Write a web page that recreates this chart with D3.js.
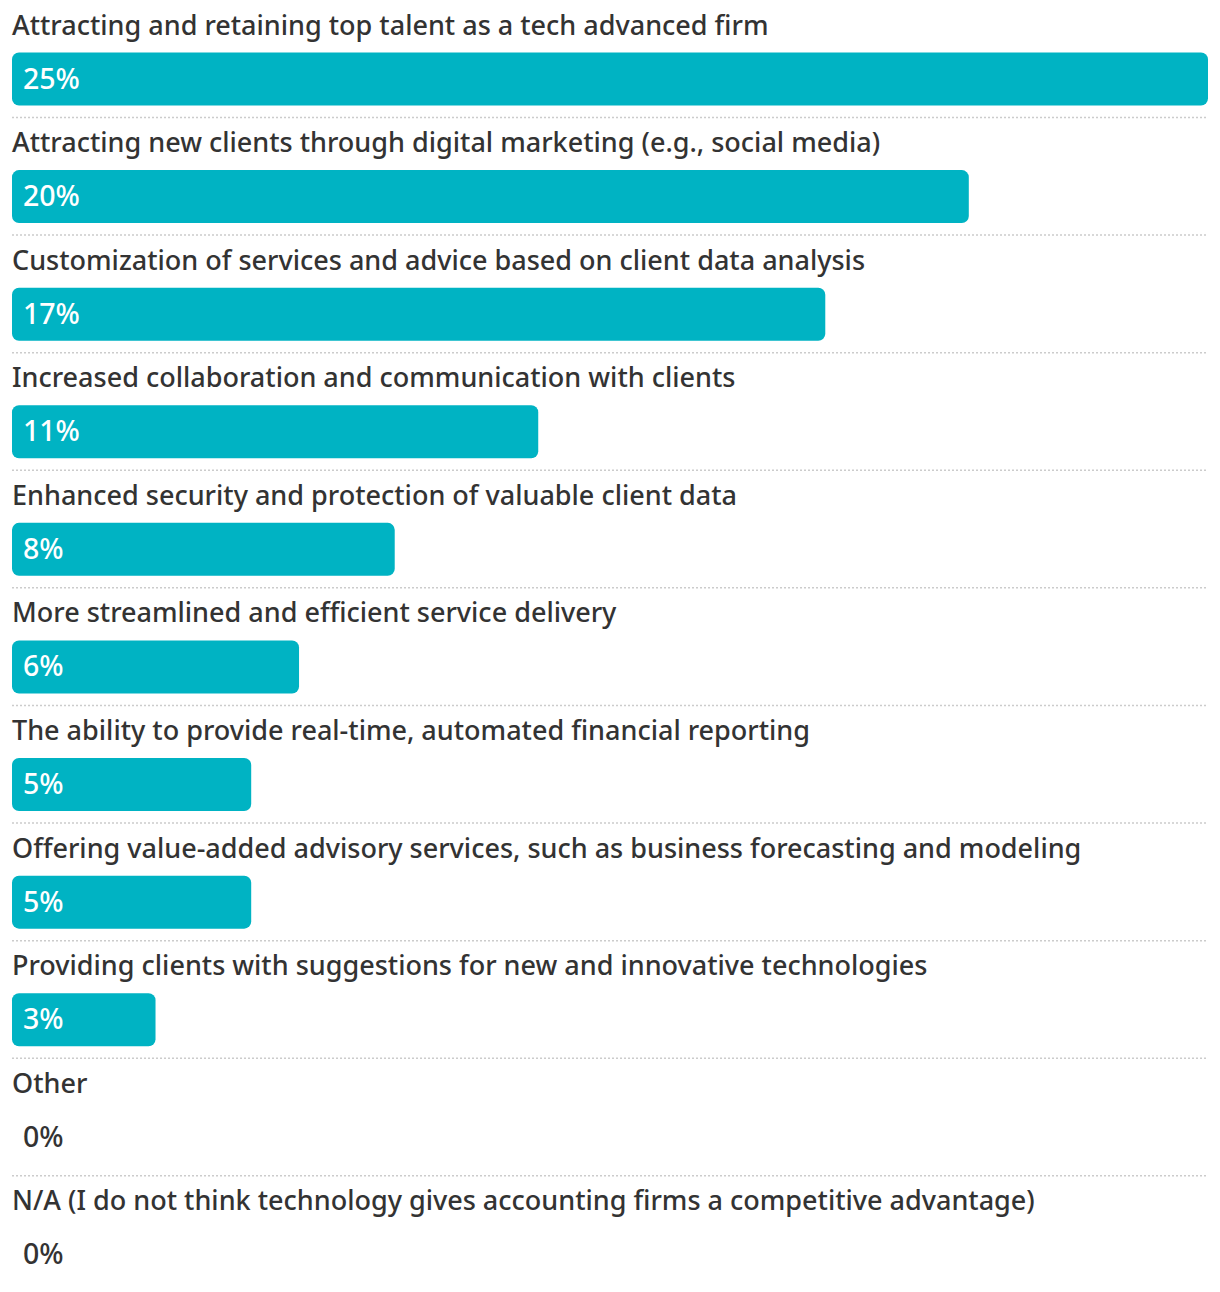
<!DOCTYPE html>
<html><head><meta charset="utf-8">
<script src="https://cdn.jsdelivr.net/npm/d3@7"></script>
<style>html,body{margin:0;padding:0;background:#fff;}</style>
</head><body>
<svg id="chart" width="1220" height="1292"></svg>
<script>
const categories = [
  "Attracting and retaining top talent as a tech advanced firm",
  "Attracting new clients through digital marketing (e.g., social media)",
  "Customization of services and advice based on client data analysis",
  "Increased collaboration and communication with clients",
  "Enhanced security and protection of valuable client data",
  "More streamlined and efficient service delivery",
  "The ability to provide real-time, automated financial reporting",
  "Offering value-added advisory services, such as business forecasting and modeling",
  "Providing clients with suggestions for new and innovative technologies",
  "Other",
  "N/A (I do not think technology gives accounting firms a competitive advantage)"
];
const values = [25, 20, 17, 11, 8, 6, 5, 5, 3, 0, 0];

const svg = d3.select("#chart");
const font = "'Noto Sans', 'Open Sans', sans-serif";

const y = d3.scaleBand().domain(categories).range([0, 1293.5]).padding(0);
const x = d3.scaleLinear().domain([0, 25]).range([12, 1208]);

const rows = svg.selectAll("g.row").data(categories).join("g")
  .attr("class", "row")
  .attr("transform", d => `translate(0,${y(d)})`);

rows.append("text")
  .attr("x", 12).attr("y", 34.5)
  .attr("font-family", font).attr("font-size", 27).attr("font-weight", 500)
  .attr("fill", "#333333")
  .text(d => d);

rows.filter((d, i) => values[i] > 0).append("rect")
  .attr("x", x(0)).attr("y", 52.5)
  .attr("width", (d, i) => x(values[i]) - x(0))
  .attr("height", 53).attr("rx", 7).attr("ry", 7)
  .attr("fill", "#00b3c3");

rows.append("text")
  .attr("x", 23).attr("y", 88.5)
  .attr("font-family", font).attr("font-size", 28.5).attr("font-weight", 500)
  .attr("fill", (d, i) => values[i] > 0 ? "#ffffff" : "#333333")
  .text((d, i) => values[i] + "%");

rows.filter((d, i) => i < categories.length - 1).append("line")
  .attr("x1", 12).attr("x2", 1208)
  .attr("y1", 117.5).attr("y2", 117.5)
  .attr("stroke", "#cccccc").attr("stroke-width", 1.5)
  .attr("stroke-dasharray", "2,2");
</script>
</body></html>
